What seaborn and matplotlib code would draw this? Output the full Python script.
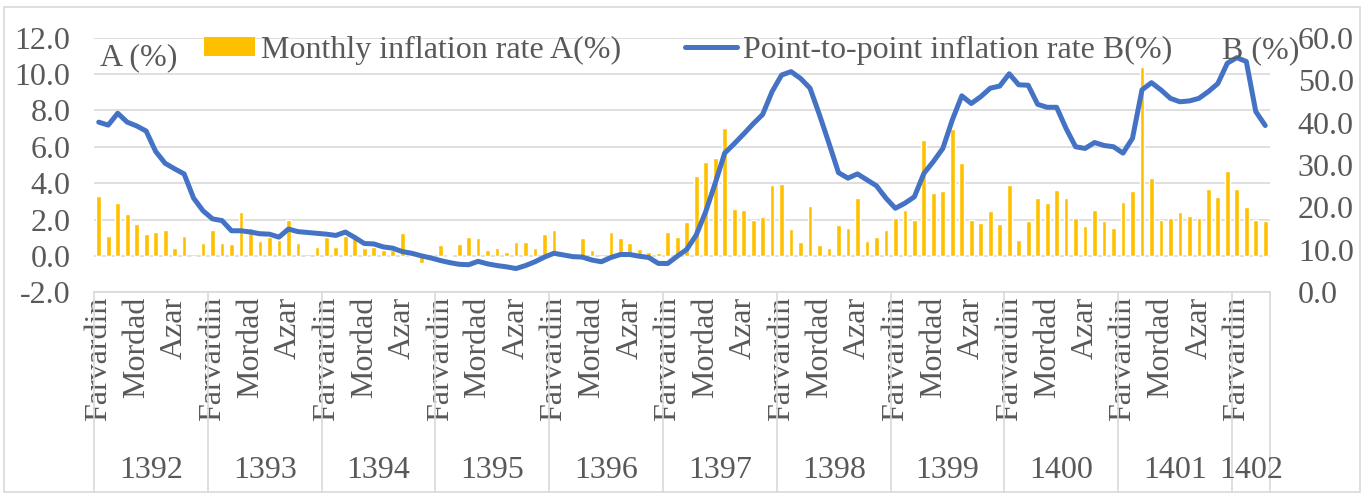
import numpy as np
import pandas as pd
import matplotlib
matplotlib.use('Agg')
import matplotlib.pyplot as plt
import matplotlib.transforms as mtransforms
from matplotlib.patches import Patch, Rectangle
from matplotlib.lines import Line2D
import seaborn as sns

# Solar Hijri years and months covered by the chart
years = ['1392', '1393', '1394', '1395', '1396', '1397', '1398', '1399', '1400', '1401', '1402']
months_per_year = [12, 12, 12, 12, 12, 12, 12, 12, 12, 12, 4]
month_names = ['Farvardin', 'Ordibehesht', 'Khordad', 'Tir', 'Mordad', 'Shahrivar',
               'Mehr', 'Aban', 'Azar', 'Dey', 'Bahman', 'Esfand']

# Monthly inflation rate A (%), left axis
monthly_a = [
    3.31, 1.07, 2.89, 2.33, 1.75, 1.19, 1.34, 1.43, 0.44, 1.07, 0.02, 0.70,    # 1392
    1.40, 0.70, 0.66, 2.40, 1.52, 0.80, 1.03, 0.88, 1.99, 0.70, 0.02, 0.51,    # 1393
    1.03, 0.48, 1.08, 1.18, 0.44, 0.48, 0.31, 0.31, 1.27, 0.31, -0.37, 0.13,   # 1394
    0.59, 0.07, 0.63, 1.03, 0.99, 0.31, 0.44, 0.22, 0.77, 0.79, 0.46, 1.19,    # 1395
    1.40, -0.07, 0.13, 1.01, 0.35, 0.02, 1.31, 0.99, 0.70, 0.37, 0.24, 0.18,   # 1396
    1.31, 1.03, 1.86, 4.41, 5.18, 5.37, 7.04, 2.57, 2.54, 1.97, 2.15, 3.90,    # 1397
    3.95, 1.47, 0.75, 2.72, 0.59, 0.46, 1.71, 1.53, 3.16, 0.83, 1.05, 1.42,    # 1398
    2.11, 2.50, 1.97, 6.40, 3.44, 3.57, 7.00, 5.13, 1.97, 1.80, 2.46, 1.76,    # 1399
    3.92, 0.85, 1.93, 3.16, 2.90, 3.62, 3.16, 2.10, 1.67, 2.52, 1.93, 1.53,    # 1400
    2.94, 3.55, 10.39, 4.28, 1.97, 2.10, 2.43, 2.19, 2.11, 3.69, 3.24, 4.69,   # 1401
    3.66, 2.70, 1.97, 1.93,                                                    # 1402
]

# Point-to-point inflation rate B (%), right axis
point_b = [
    40.1, 39.4, 42.2, 40.1, 39.2, 38.0, 33.2, 30.4, 29.1, 27.9, 22.2, 19.2,
    17.3, 16.9, 14.5, 14.5, 14.2, 13.8, 13.7, 13.0, 14.9, 14.3, 14.1, 13.9,
    13.7, 13.4, 14.2, 12.9, 11.5, 11.4, 10.7, 10.4, 9.6, 9.2, 8.6, 8.1,
    7.5, 7.0, 6.6, 6.5, 7.3, 6.7, 6.3, 6.0, 5.6, 6.3, 7.2, 8.3,
    9.2, 8.8, 8.4, 8.3, 7.6, 7.2, 8.2, 8.9, 8.9, 8.5, 8.2, 6.8,
    6.8, 8.5, 10.1, 13.5, 19.0, 25.7, 32.8, 35.0, 37.3, 39.7, 41.9, 47.3,
    51.2, 52.0, 50.4, 48.1, 41.8, 35.1, 28.2, 26.9, 27.9, 26.5, 25.1, 22.2,
    19.8, 21.0, 22.5, 28.0, 30.8, 33.9, 40.6, 46.3, 44.5, 46.1, 48.1, 48.6,
    51.5, 48.9, 48.8, 44.3, 43.6, 43.6, 38.6, 34.3, 33.9, 35.3, 34.6, 34.3,
    32.8, 36.3, 47.7, 49.4, 47.7, 45.7, 44.9, 45.1, 45.7, 47.3, 49.2, 54.0,
    55.3, 54.4, 42.6, 39.3,
]

sns.set_style('white')
plt.rcParams['font.family'] = ['Liberation Serif', 'DejaVu Serif']

TXT = '#595959'
GRID = '#d9d9d9'
BAR = '#FFC000'
LINE = '#4472C4'
FS = 23

df = pd.DataFrame({'idx': np.arange(len(monthly_a)), 'A': monthly_a, 'B': point_b})
month_labels = []
for n in months_per_year:
    month_labels += month_names[:n]

W, H = 1368, 493
x0, x1, ytop, ybot = 94, 1270, 37.7, 292.3
fig = plt.figure(figsize=(W / 100, H / 100), dpi=100)
ax = fig.add_axes([x0 / W, 1 - ybot / H, (x1 - x0) / W, (ybot - ytop) / H])

sns.barplot(data=df, x='idx', y='A', native_scale=True, color=BAR, saturation=1,
            width=0.5, errorbar=None, ax=ax)
ax2 = ax.twinx()
sns.lineplot(data=df, x='idx', y='B', color=LINE, lw=3.6, ax=ax2,
             solid_joinstyle='round', solid_capstyle='round')

n = len(monthly_a)
ax.set_xlim(-0.5, n - 0.5)
ax.set_ylim(-2, 12)
ax2.set_ylim(0, 60)

left_ticks = np.arange(-2, 13, 2)
ax.set_yticks(left_ticks)
ax.set_yticklabels([f'{v:.1f}' for v in left_ticks])
right_ticks = np.arange(0, 61, 10)
ax2.set_yticks(right_ticks)
ax2.set_yticklabels([f'{v:.1f}' for v in right_ticks])

ticks = list(range(0, n, 4))
ax.set_xticks(ticks)
ax.set_xticklabels([month_labels[i] for i in ticks], rotation=90, va='top', ha='center')

ax.tick_params(axis='x', length=0, pad=3, labelsize=FS, labelcolor=TXT)
ax.tick_params(axis='y', length=0, pad=17, labelsize=FS, labelcolor=TXT)
ax2.tick_params(axis='y', length=0, pad=20, labelsize=FS, labelcolor=TXT)
ax.set_xlabel('')
ax.set_ylabel('')
ax2.set_ylabel('')

ax.grid(axis='y', color=GRID, lw=1.2)
ax.grid(axis='x', visible=False)
ax.set_axisbelow(True)
for s in ['left', 'right', 'top']:
    ax.spines[s].set_visible(False)
for s in ax2.spines.values():
    s.set_visible(False)
ax.spines['bottom'].set_color(GRID)
ax.spines['bottom'].set_linewidth(1.2)

# two-level category axis: year separators and year labels
bounds = np.cumsum([0] + months_per_year) - 0.5
trans = mtransforms.blended_transform_factory(ax.transData, fig.transFigure)
for b in bounds:
    fig.add_artist(Line2D([b, b], [0, 1 - ybot / H], transform=trans, color=GRID, lw=1.2))
for i, yr in enumerate(years):
    c = (bounds[i] + bounds[i + 1]) / 2
    fig.text(c, 1 - 470 / H, yr, transform=trans, ha='center', va='center',
             fontsize=FS, color=TXT)

# axis titles inside the plot
fig.text(100 / W, 1 - 58 / H, 'A (%)', ha='left', va='center', fontsize=FS, color=TXT)
fig.text(1222 / W, 1 - 51 / H, 'B (%)', ha='left', va='center', fontsize=FS, color=TXT)

handles = [Patch(facecolor=BAR, edgecolor='none'), Line2D([0], [0], color=LINE, lw=3.6)]
fig.legend(handles, ['Monthly inflation rate A(%)', 'Point-to-point inflation rate B(%)'],
           loc='center', bbox_to_anchor=(0.503, 1 - 50 / H), ncol=2, frameon=False,
           fontsize=FS, handlelength=1.6, handleheight=0.55, handletextpad=0.2,
           columnspacing=2.0, labelcolor=TXT, borderpad=0, borderaxespad=0)

# chart border
fig.add_artist(Rectangle((4 / W, 1 / H), (1360 - 4) / W, (492 - 7) / H,
                         transform=fig.transFigure, fill=False, edgecolor=GRID, lw=1.2))

fig.savefig('out.png', dpi=100)
